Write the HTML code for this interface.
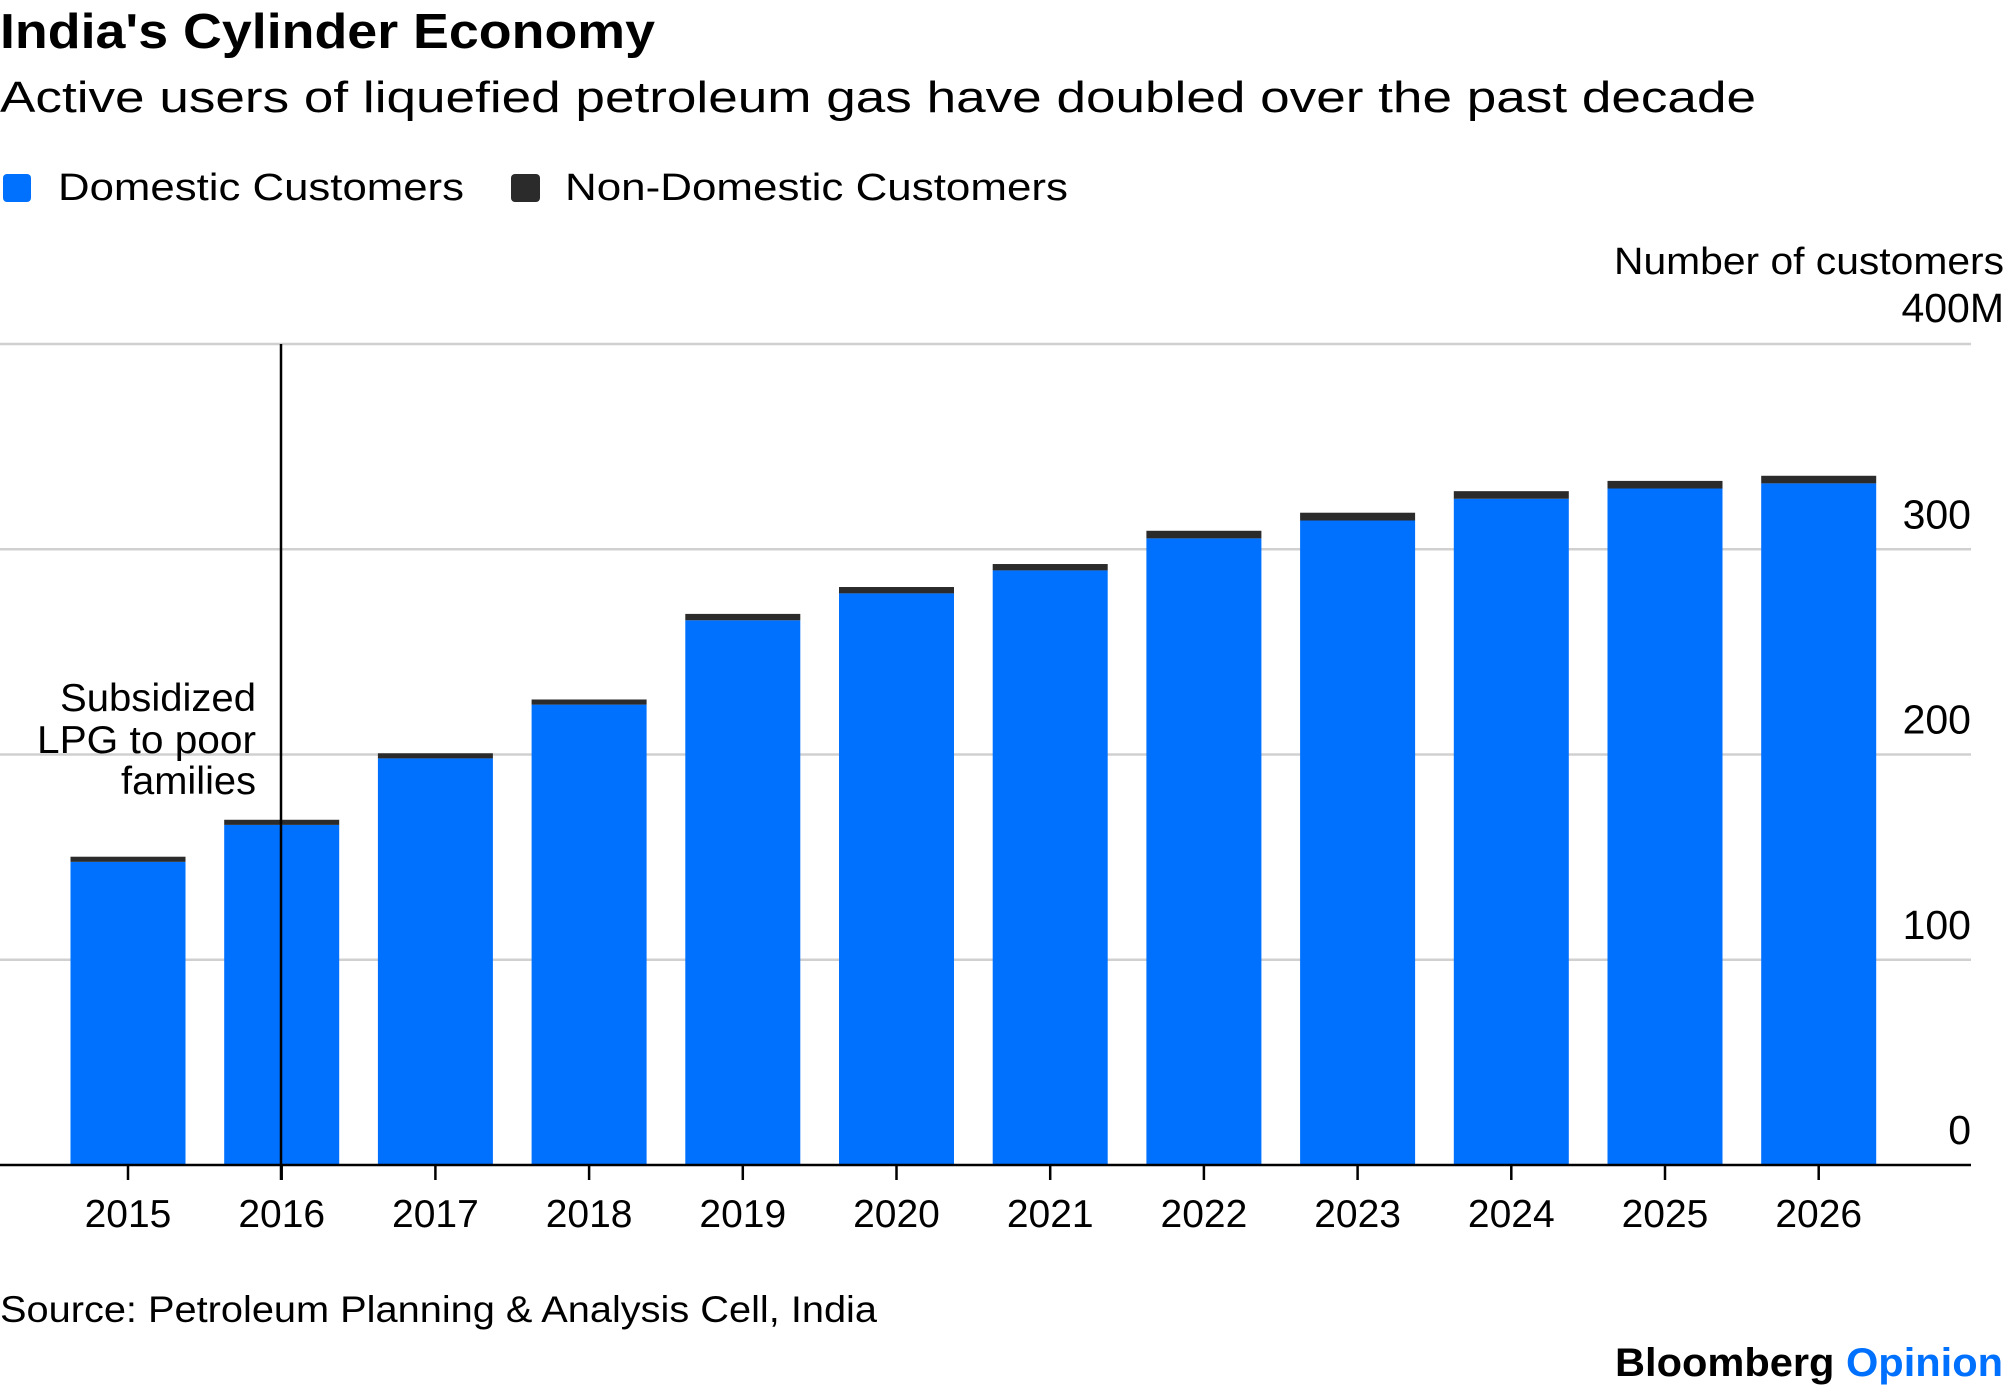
<!DOCTYPE html>
<html><head><meta charset="utf-8"><style>
html,body{margin:0;padding:0;background:#fff}
svg{display:block;font-family:"Liberation Sans",Arial,sans-serif}
</style></head><body>
<svg id="chart" width="2005" height="1392" viewBox="0 0 2005 1392" xmlns="http://www.w3.org/2000/svg">
<text x="0" y="48" font-size="49" font-weight="bold" textLength="655" lengthAdjust="spacingAndGlyphs">India's Cylinder Economy</text>
<text x="0" y="112" font-size="44" textLength="1756" lengthAdjust="spacingAndGlyphs">Active users of liquefied petroleum gas have doubled over the past decade</text>
<g>
<rect x="3" y="174" width="28" height="28" rx="4" fill="#0070ff"/>
<text x="58" y="200" font-size="38" textLength="406" lengthAdjust="spacingAndGlyphs">Domestic Customers</text>
<rect x="511" y="174" width="29" height="28" rx="4" fill="#2b2b2b"/>
<text x="565" y="200" font-size="38" textLength="503" lengthAdjust="spacingAndGlyphs">Non-Domestic Customers</text>
</g>
<text x="1614" y="274" font-size="38" textLength="390" lengthAdjust="spacingAndGlyphs">Number of customers</text>
<g id="grid"></g>
<g id="bars"></g>
<g id="xaxis"></g>
<line x1="281" y1="344" x2="281" y2="1180" stroke="#000" stroke-width="2.5"/>
<g font-size="39">
<text x="60" y="711" textLength="196" lengthAdjust="spacingAndGlyphs">Subsidized</text>
<text x="37" y="753" textLength="219" lengthAdjust="spacingAndGlyphs">LPG to poor</text>
<text x="121" y="794" textLength="135" lengthAdjust="spacingAndGlyphs">families</text>
</g>
<text x="0" y="1322" font-size="37" textLength="877" lengthAdjust="spacingAndGlyphs">Source: Petroleum Planning &amp; Analysis Cell, India</text>
<text x="1615" y="1376" font-size="40" font-weight="bold" textLength="388" lengthAdjust="spacingAndGlyphs">Bloomberg <tspan fill="#0070ff">Opinion</tspan></text>
</svg>
<script>
const years = ['2015','2016','2017','2018','2019','2020','2021','2022','2023','2024','2025','2026'];
const domestic = [147.7,165.7,198.1,224.3,265.4,278.5,289.7,305.3,314,324.6,329.6,332.1];
const nonDomestic = [2.5,2.5,2.5,2.5,3.1,3.1,3.1,3.7,3.8,3.7,3.7,3.7];
const yTicks = [0,100,200,300,400];
const yTickLabels = ['0','100','200','300','400M'];

const NS='http://www.w3.org/2000/svg';
const base=1165, top400=344, left=0, right=1971;
const y = v => base - (v/400)*(base-top400);
const step = 153.7, x0 = 128, bw = 115;
const xc = i => x0 + i*step;
function mk(t,a){const e=document.createElementNS(NS,t);for(const k in a)e.setAttribute(k,a[k]);return e;}
const grid=document.getElementById('grid'), bars=document.getElementById('bars'), xaxis=document.getElementById('xaxis');
yTicks.forEach((t,i)=>{
  if(t>0){
    const l=mk('line',{x1:left,x2:right,y1:y(t),y2:y(t),stroke:'#d0d0d0','stroke-width':2.5});
    
    
    grid.appendChild(l);
  }
  const tx=mk('text',{x:i===4?2004:1971,y:i===4?322:y(t)-21,'font-size':41,'text-anchor':'end'});
  tx.textContent=yTickLabels[i];
  
  
  grid.appendChild(tx);
});
years.forEach((yr,i)=>{
  const d=mk('rect',{x:xc(i)-bw/2,y:y(domestic[i]),width:bw,height:base-y(domestic[i]),fill:'#0070ff'});
  
  
  bars.appendChild(d);
  const n=mk('rect',{x:xc(i)-bw/2,y:y(domestic[i]+nonDomestic[i]),width:bw,height:y(domestic[i])-y(domestic[i]+nonDomestic[i]),fill:'#2b2b2b'});
  
  
  bars.appendChild(n);
  const tk=mk('line',{x1:xc(i),x2:xc(i),y1:base,y2:base+15,stroke:'#000','stroke-width':2.5});
  
  
  xaxis.appendChild(tk);
  const lb=mk('text',{x:xc(i),y:1227,'font-size':39,'text-anchor':'middle'});
  lb.textContent=yr;
  
  
  xaxis.appendChild(lb);
});
const ax=mk('line',{x1:left,x2:right,y1:base,y2:base,stroke:'#000','stroke-width':2.5});


xaxis.appendChild(ax);
</script>
</body></html>
